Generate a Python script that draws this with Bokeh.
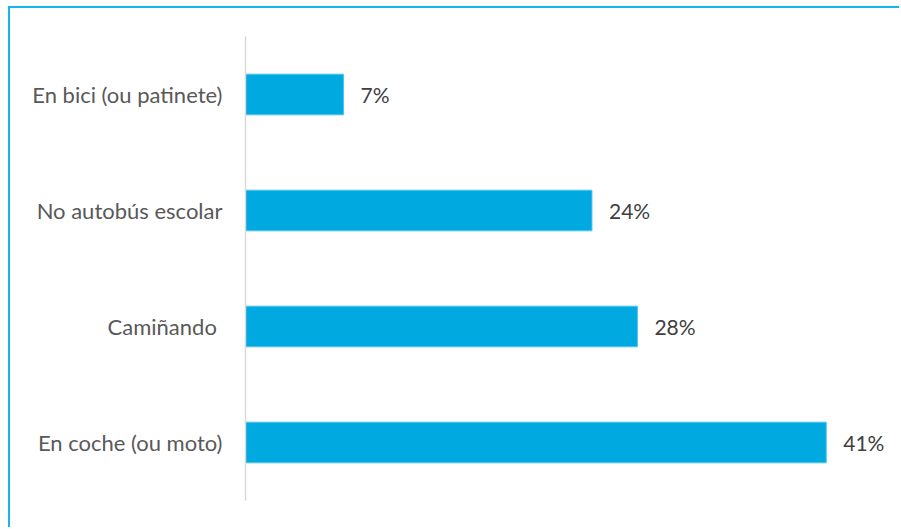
from bokeh.plotting import figure
from bokeh.models import FactorRange, Range1d, ColumnDataSource
from bokeh.core.properties import value
from bokeh.embed import file_html
from bokeh.resources import INLINE

categories = ["En bici (ou patinete)", "No autobús escolar", "Camiñando ", "En coche (ou moto)"]
values = [6.9, 24.4, 27.6, 40.9]
value_labels = ["7%", "24%", "28%", "41%"]

src = ColumnDataSource(dict(cat=categories, val=values, lab=value_labels))

p = figure(
    width=891, height=521,
    y_range=FactorRange(*reversed(categories), factor_padding=0, range_padding=0),
    x_range=Range1d(0, 46.2),
    output_backend="svg", toolbar_location=None,
    min_border_left=235, min_border_right=0, min_border_top=28, min_border_bottom=29,
)
p.styles = {"border-left": "2px solid #18B4EE", "border-top": "2px solid #18B4EE",
            "margin-left": "8px", "margin-top": "6px"}

p.hbar(y="cat", right="val", left=0, height=0.35, source=src,
       fill_color="#00A9E0", line_color="#4DC3EC", line_width=1)
p.text(x="val", y="cat", text="lab", source=src, x_offset=17,
       text_baseline="middle", text_align="left",
       text_font=value("Lato"), text_font_size="21px", text_color="#404040")

p.xaxis.visible = False
p.xgrid.visible = False
p.ygrid.visible = False
p.outline_line_color = None
ax = p.yaxis[0]
ax.axis_line_color = "#D9D9D9"
ax.axis_line_width = 1.5
ax.major_tick_line_color = None
ax.minor_tick_line_color = None
ax.major_tick_out = 0
ax.major_label_standoff = 23
ax.major_label_text_font = "Lato"
ax.major_label_text_font_size = "22px"
ax.major_label_text_color = "#595959"

open("out.html", "w").write(file_html(p, INLINE))
